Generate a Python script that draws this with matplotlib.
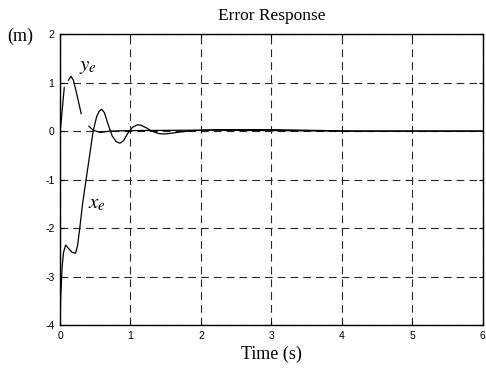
import matplotlib.pyplot as plt
import numpy as np

plt.rcParams['mathtext.fontset'] = 'stix'
plt.rcParams['axes.unicode_minus'] = False
plt.rcParams['font.family'] = ['Liberation Sans', 'DejaVu Sans']

# x_e error (m) vs time (s)
t_x = [0, 0.01, 0.03, 0.05, 0.08, 0.12, 0.17, 0.22, 0.25, 0.28, 0.32, 0.37,
       0.42, 0.47, 0.52, 0.56, 0.59, 0.63, 0.68, 0.74, 0.80, 0.85, 0.90, 0.96,
       1.03, 1.10, 1.15, 1.22, 1.30, 1.40, 1.47, 1.55, 1.70, 1.90, 2.20, 2.60,
       3.00, 3.40, 3.80, 4.20, 5.00, 6.00]
x_e = [-4.0, -3.4, -2.8, -2.5, -2.35, -2.42, -2.5, -2.52, -2.35, -2.0, -1.5, -1.0,
       -0.5, 0.0, 0.3, 0.42, 0.45, 0.38, 0.15, -0.1, -0.22, -0.25, -0.2, -0.05,
       0.08, 0.13, 0.12, 0.07, 0.0, -0.05, -0.06, -0.05, -0.02, 0.01, 0.03, 0.03,
       0.03, 0.02, 0.01, 0.0, 0.0, 0.0]

# y_e error (m), nan = break in the trace
t_y = [0, 0.01, 0.06, 0.09, 0.12, 0.155, 0.19, 0.24, 0.30, 0.35,
       0.41, 0.47, 0.57, 0.70, 1.0, 2.0, 3.0, 4.0, 6.0]
y_e = [0.0, 0.1, 0.9, np.nan, 1.05, 1.13, 1.05, 0.75, 0.36, np.nan,
       0.1, 0.02, -0.03, 0.0, 0.01, 0.02, 0.01, 0.0, 0.0]

serif = 'Liberation Serif'

fig = plt.figure(figsize=(4.86, 3.71), dpi=100)
ax = fig.add_axes([0.1235, 0.124, 0.870, 0.784])

ax.plot(t_x, x_e, color='black', linewidth=0.9)
ax.plot(t_y, y_e, color='black', linewidth=0.9)

ax.set_xlim(0, 6)
ax.set_ylim(-4, 2)
ax.set_xticks(range(0, 7))
ax.set_yticks(range(-4, 3))
ax.grid(True, color='0.15', linestyle=(0, (7, 4.5)), linewidth=0.8)
ax.tick_params(direction='in', length=3, labelsize=7.5, pad=4,
               top=True, right=True)
for s in ax.spines.values():
    s.set_linewidth(1.0)

ax.set_title('Error Response', fontsize=12.5, family=serif, pad=10)
ax.set_xlabel('Time (s)', fontsize=13, family=serif, labelpad=4)
fig.text(0.015, 0.89, '(m)', fontsize=13, family=serif)

ax.text(0.27, 1.25, r'$y_e$', fontsize=15)
ax.text(0.40, -1.6, r'$x_e$', fontsize=15)

fig.savefig('out.png', dpi=100)
